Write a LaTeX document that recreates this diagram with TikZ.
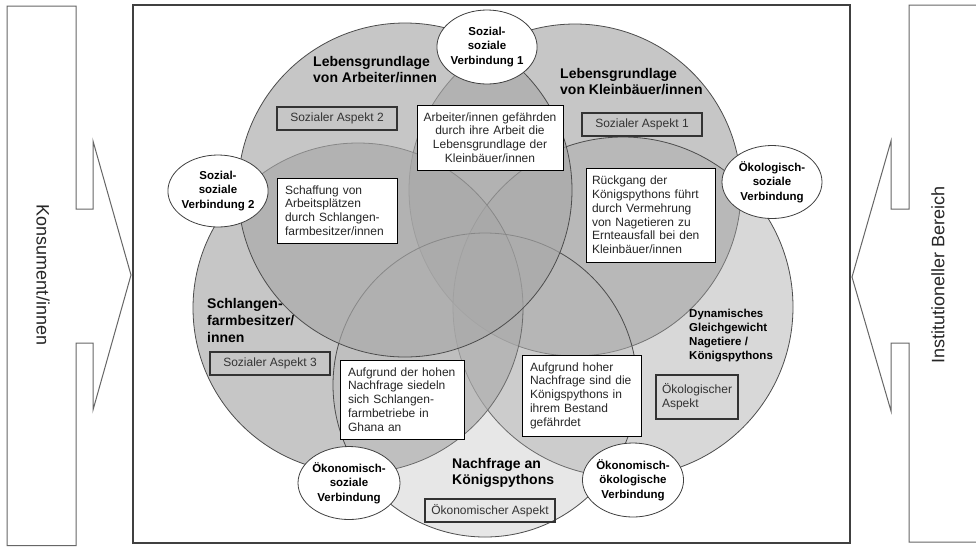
\documentclass[tikz,border=0pt]{standalone}
\usepackage{fontspec}
\setmainfont{Liberation Sans}
\usetikzlibrary{positioning,shapes.geometric}

\begin{document}
\begin{tikzpicture}[x=1pt,y=-1pt,
  kreis/.style={circle,draw=black!70,line width=0.8pt,fill=black!34,fill opacity=0.65,inner sep=0pt},
  verb/.style={ellipse,draw=black!75,line width=0.8pt,fill=white,inner sep=-1pt,align=center,font=\bfseries\fontsize{11.5}{14.5}\selectfont},
  textbox/.style={draw=black,line width=0.6pt,fill=white,inner xsep=6pt,inner ysep=0pt,font=\fontsize{12}{13.8}\selectfont,text=black!85},
  aspekt/.style={draw=black!80,line width=1.6pt,inner sep=0pt,font=\fontsize{12}{14}\selectfont,text=black!80},
  titel/.style={anchor=west,inner sep=0pt,align=left,font=\bfseries\fontsize{14}{16}\selectfont},
  rand/.style={draw=black!60,line width=1pt},
  seite/.style={font=\fontsize{18}{20}\selectfont,text=black!85}]
\fill[white] (0,0) rectangle (976,547);
\useasboundingbox (0,0) rectangle (976,547);

% Konsument/innen und Institutioneller Bereich
\draw[rand] (7,6) -- (76,6) -- (76,209) -- (93,209) -- (93,141) -- (131,275) -- (93,410) -- (93,343) -- (76,343) -- (76,545.5) -- (7,545.5) -- cycle;
\draw[rand] (990,5) -- (909,5) -- (909,209) -- (891,209) -- (891,141) -- (852,277) -- (891,411) -- (891,343) -- (909,343) -- (909,542) -- (990,542);
\node[seite,rotate=-90] (kons) at (43,275) {Konsument/innen};
\node[seite,rotate=90] (inst) at (938,275) {Institutioneller Bereich};

\draw[black!75,line width=1.2pt] (133,5) rectangle (850,543);

% Kreise
\node[kreis,minimum size=332] (klein) at (575,190) {};
\node[kreis,minimum size=340,fill=black!35,fill opacity=0.43] (dyn) at (623,307) {};
\node[kreis,minimum size=330] (schl) at (358,308) {};
\node[kreis,minimum size=304,fill=black!30,fill opacity=0.3] (nach) at (485,385) {};
\node[kreis,minimum size=334] (arb) at (405,190) {};

% Ueberschriften
\node[titel] (larb) at (313,70) {Lebensgrundlage\\von Arbeiter/innen};
\node[titel] (lklein) at (560,81.5) {Lebensgrundlage\\von Kleinbäuer/innen};
\node[titel,font=\bfseries\fontsize{14}{17}\selectfont] (lschl) at (207,320) {Schlangen-\\farmbesitzer/\\innen};
\node[titel] (lnach) at (452,472.5) {Nachfrage an\\Königspythons};
\node[titel,font=\bfseries\fontsize{11.5}{14.3}\selectfont] (ldyn) at (689,335.5) {Dynamisches\\Gleichgewicht\\Nagetiere /\\Königspythons};

% Aspekte
\node[aspekt,minimum width=120,minimum height=23] (asp2) at (337,118.5) {Sozialer Aspekt 2};
\node[aspekt,minimum width=120,minimum height=23] (asp1) at (642,124.5) {Sozialer Aspekt 1};
\node[aspekt,minimum width=120,minimum height=23] (asp3) at (270,363.5) {Sozialer Aspekt 3};
\node[aspekt,minimum width=130,minimum height=23] (aspoek) at (490,510.5) {Ökonomischer Aspekt};
\node[aspekt,minimum width=82,minimum height=44,text width=70,align=left] (aspoeko) at (697,397) {Ökologischer\\Aspekt};

% Textkaesten
\node[textbox,text width=134,minimum height=65,align=center] (tarb) at (490,137.5) {Arbeiter/innen gefährden\\durch ihre Arbeit die\\Lebensgrundlage der\\Kleinbäuer/innen};
\node[textbox,inner xsep=8,text width=104,minimum height=65,align=left] (tschaff) at (337,210.5) {Schaffung von\\Arbeitsplätzen\\durch Schlangen-\\farmbesitzer/innen};
\node[textbox,text width=117,minimum height=94,align=left] (trueck) at (650.5,215) {Rückgang der\\Königspythons führt\\durch Vermehrung\\von Nagetieren zu\\Ernteausfall bei den\\Kleinbäuer/innen};
\node[textbox,inner xsep=8,text width=108,minimum height=79,align=left] (tauf1) at (402,399.5) {Aufgrund der hohen\\Nachfrage siedeln\\sich Schlangen-\\farmbetriebe in\\Ghana an};
\node[textbox,inner xsep=8,text width=103,minimum height=81,align=left] (tauf2) at (581.5,395.5) {Aufgrund hoher\\Nachfrage sind die\\Königspythons in\\ihrem Bestand\\gefährdet};

% Verbindungen
\node[verb,minimum width=100,minimum height=74] (ss1) at (487,47) {Sozial-\\soziale\\Verbindung 1};
\node[verb,minimum width=98,minimum height=72] (ss2) at (218,191) {Sozial-\\soziale\\Verbindung 2};
\node[verb,minimum width=100,minimum height=73] (oeks) at (772,182) {Ökologisch-\\soziale\\Verbindung};
\node[verb,minimum width=102,minimum height=73] (oekso) at (349,483) {Ökonomisch-\\soziale\\Verbindung};
\node[verb,minimum width=101,minimum height=74] (oekoe) at (633,480) {Ökonomisch-\\ökologische\\Verbindung};
\end{tikzpicture}
\end{document}
